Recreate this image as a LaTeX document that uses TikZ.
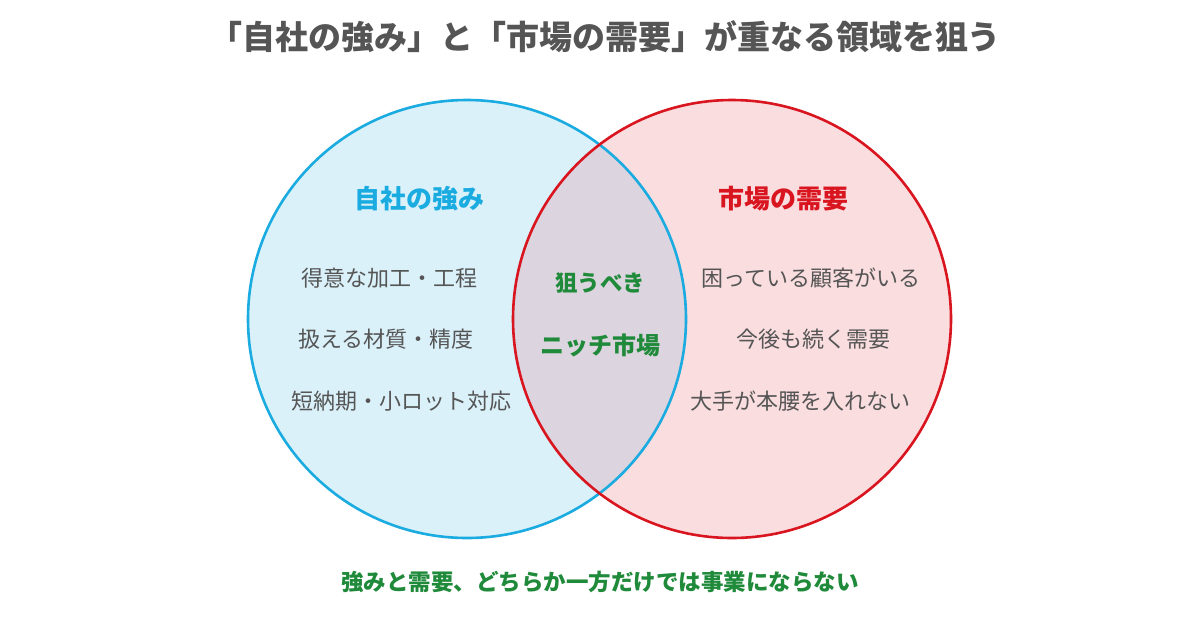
\documentclass[tikz,border=0pt]{standalone}
\usepackage{fontspec}
\setmainfont{Noto Sans CJK JP}
\begin{document}
\definecolor{cblue}{HTML}{1AABE0}
\definecolor{cred}{HTML}{D9151F}
\definecolor{cgreen}{HTML}{1F8A3A}
\definecolor{tgray}{HTML}{555555}
\definecolor{fblue}{HTML}{DAF1FA}
\definecolor{fred}{HTML}{FADDDF}
\definecolor{fmid}{HTML}{DCD4DE}
\begin{tikzpicture}[x=1pt,y=-1pt,
  item/.style={text=tgray,font=\fontsize{22}{26}\selectfont,anchor=center},
  head/.style={font=\bfseries\fontsize{26}{30}\selectfont,anchor=center}]
\useasboundingbox (0,0) rectangle (1200,630);
\fill[white] (0,0) rectangle (1200,630);
\coordinate (L) at (467,319);
\coordinate (R) at (732,319);
\fill[fblue] (L) circle (219);
\fill[fred] (R) circle (219);
\begin{scope}
\clip (L) circle (219);
\fill[fmid] (R) circle (219);
\end{scope}
\draw[cblue,line width=2.6pt] (L) circle (219);
\draw[cred,line width=2.6pt] (R) circle (219);
\node[text=tgray,font=\bfseries\fontsize{33}{38}\selectfont] (title) at (605,37) {「自社の強み」と「市場の需要」が重なる領域を狙う};
\node[head,text=cblue] (lh) at (419,199) {自社の強み};
\node[head,text=cred] (rh) at (783,199) {市場の需要};
\node[item] (l1) at (389,278) {得意な加工・工程};
\node[item] (l2) at (386,339) {扱える材質・精度};
\node[item] (l3) at (401,401) {短納期・小ロット対応};
\node[item] (r1) at (811,278) {困っている顧客がいる};
\node[item] (r2) at (813,339) {今後も続く需要};
\node[item] (r3) at (800,401) {大手が本腰を入れない};
\node[head,text=cgreen,font=\bfseries\fontsize{22.5}{26}\selectfont] (m1) at (600,283) {狙うべき};
\node[head,text=cgreen,font=\bfseries\fontsize{24}{28}\selectfont] (m2) at (600,345) {ニッチ市場};
\node[head,text=cgreen,font=\bfseries\fontsize{22.5}{26}\selectfont] (foot) at (600,582) {強みと需要、どちらか一方だけでは事業にならない};
\end{tikzpicture}
\end{document}
